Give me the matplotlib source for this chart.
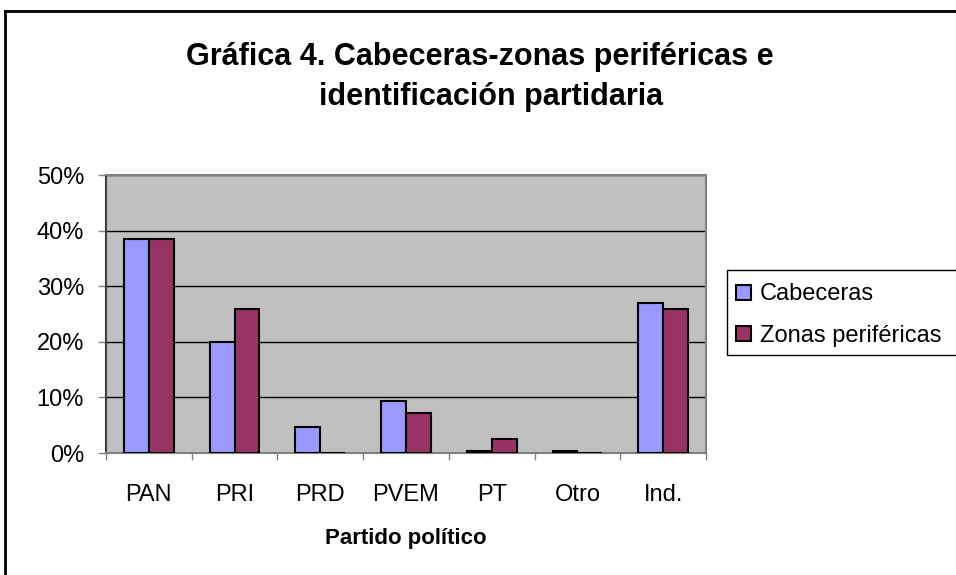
"""Gráfica 4: cabeceras vs zonas periféricas, identificación partidaria."""

import matplotlib

matplotlib.use("Agg")
import matplotlib.pyplot as plt
from matplotlib.lines import Line2D
from matplotlib.patches import Rectangle
from matplotlib.ticker import FuncFormatter, MultipleLocator
import numpy as np

partidos = ["PAN", "PRI", "PRD", "PVEM", "PT", "Otro", "Ind."]
cabeceras = [38.5, 19.9, 4.7, 9.3, 0.4, 0.4, 26.9]
zonas_perifericas = [38.5, 25.9, 0.0, 7.2, 2.5, 0.0, 25.9]
series_names = ["Cabeceras", "Zonas periféricas"]

plt.rcParams["font.family"] = ["Liberation Sans", "DejaVu Sans"]

W, H = 956, 575
fig = plt.figure(figsize=(W / 100, H / 100), dpi=100)
fig.patch.set_facecolor("white")

# outer chart border (only left and top visible in the reference)
fig.add_artist(Line2D([5 / W, 5 / W], [0, 1 - 11 / H], color="black", lw=2, transform=fig.transFigure))
fig.add_artist(Line2D([5 / W, 1], [1 - 11 / H, 1 - 11 / H], color="black", lw=2, transform=fig.transFigure))

left, right, top, bottom = 106, 706, 175, 453
ax = fig.add_axes([left / W, 1 - bottom / H, (right - left) / W, (bottom - top) / H])
ax.set_facecolor("#c0c0c0")

x = np.arange(len(partidos))
bar_w = 0.29
ax.bar(x - bar_w / 2, cabeceras, bar_w, color="#9999ff", edgecolor="black", linewidth=1.5,
       label=series_names[0], zorder=3)
ax.bar(x + bar_w / 2, zonas_perifericas, bar_w, color="#993366", edgecolor="black", linewidth=1.5,
       label=series_names[1], zorder=3)

ax.set_xlim(-0.5, len(partidos) - 0.5)
ax.set_ylim(0, 50)
ax.yaxis.set_major_locator(MultipleLocator(10))
ax.yaxis.set_major_formatter(FuncFormatter(lambda v, _: f"{v:.0f}%"))
ax.grid(axis="y", color="black", linewidth=1, zorder=1)

ax.set_xticks(x)
ax.set_xticklabels(partidos)
ax.set_xticks(np.arange(-0.5, len(partidos)), minor=True)
ax.tick_params(axis="x", which="major", length=0, labelsize=17, pad=22)
ax.tick_params(axis="x", which="minor", length=5, width=1, color="#808080", direction="out")
ax.tick_params(axis="y", length=5.8, width=1, color="#808080", labelsize=17, pad=10)

for side in ["top", "right", "bottom"]:
    ax.spines[side].set_color("#808080")
    ax.spines[side].set_linewidth(1.5)
ax.spines["left"].set_color("#404040")
ax.spines["left"].set_linewidth(1.5)

ax.set_xlabel("Partido político", fontsize=16, fontweight="bold", labelpad=16)

fig.text(480 / W, 1 - 57 / H, "Gráfica 4. Cabeceras-zonas periféricas e", ha="center", va="center",
         fontsize=22, fontweight="bold")
fig.text(491 / W, 1 - 97 / H, "identificación partidaria", ha="center", va="center",
         fontsize=22, fontweight="bold")

# legend box runs off the right edge in the reference, so draw the frame by hand
fig.add_artist(Rectangle((727 / W, 1 - 355 / H), 300 / W, 85 / H, transform=fig.transFigure,
                         facecolor="white", edgecolor="black", linewidth=1, zorder=2))
leg = fig.legend(loc="upper left", bbox_to_anchor=(727 / W, 1 - 274 / H), fontsize=17,
                 frameon=False, borderpad=0.4,
                 handlelength=0.6, handleheight=0.6, handletextpad=0.4, labelspacing=0.83,
                 borderaxespad=0)
leg.set_zorder(3)

fig.savefig("out.png", dpi=100)
